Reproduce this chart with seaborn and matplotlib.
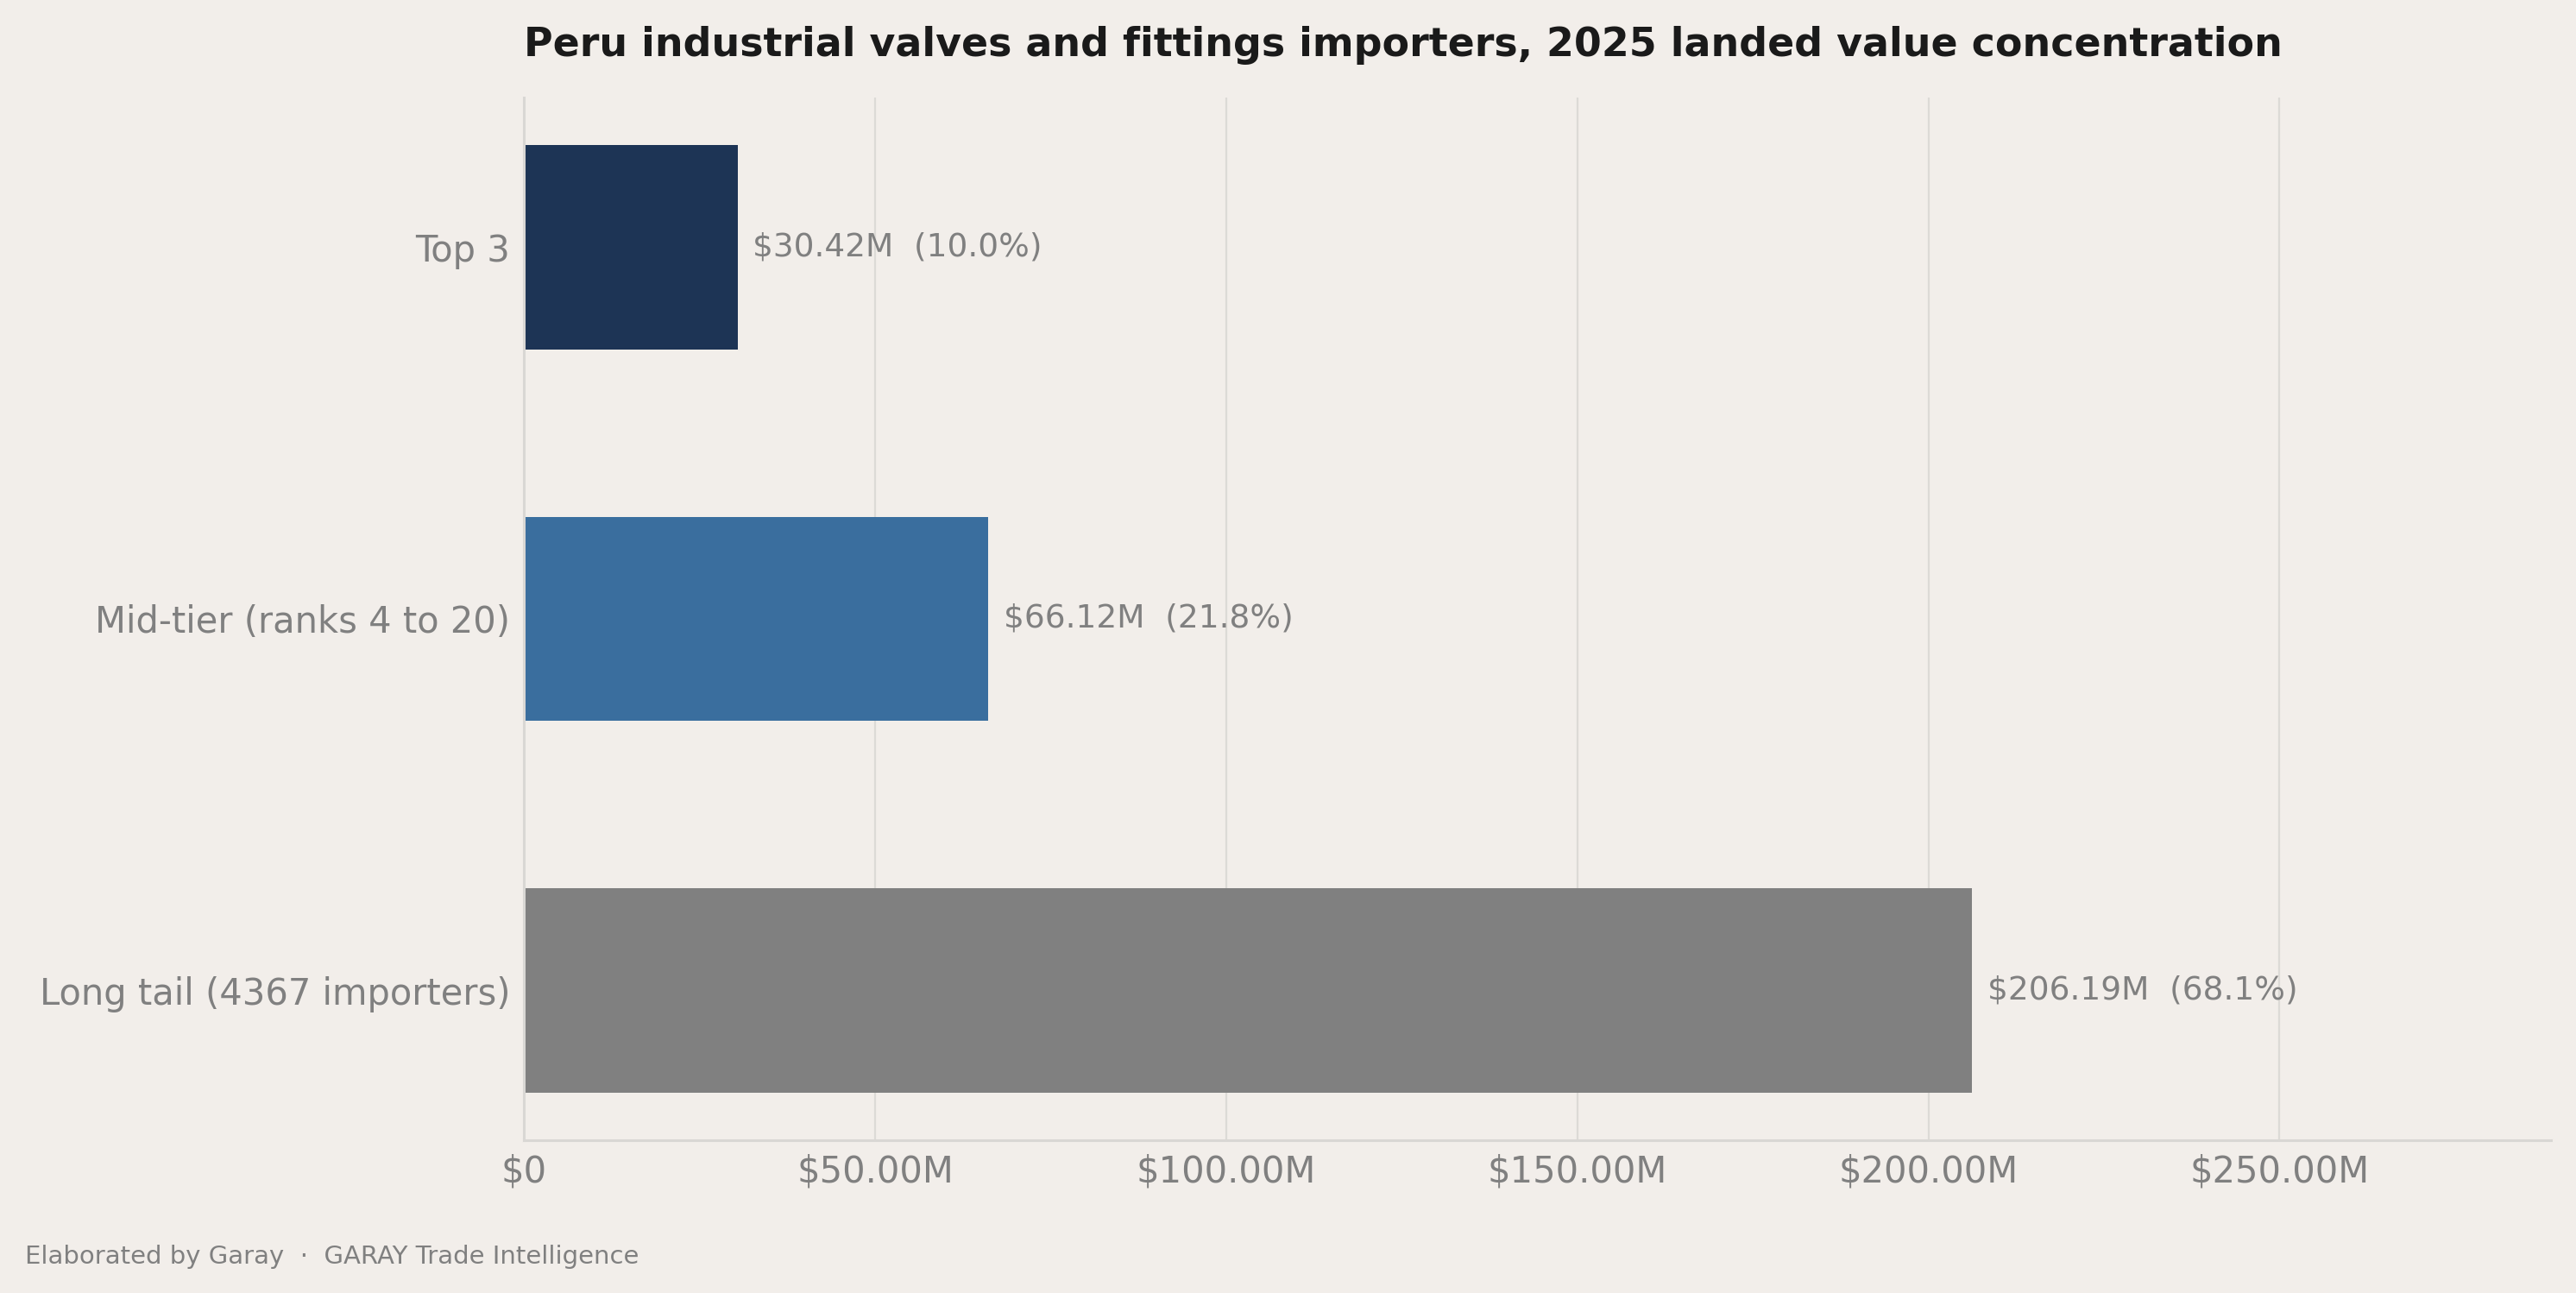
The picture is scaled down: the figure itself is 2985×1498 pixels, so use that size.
import matplotlib
matplotlib.use("Agg")
import matplotlib.pyplot as plt
import seaborn as sns
import pandas as pd
from matplotlib.ticker import FuncFormatter

# data
segments = ["Top 3", "Mid-tier (ranks 4 to 20)", "Long tail (4367 importers)"]
values_musd = [30.42, 66.12, 206.19]
shares_pct = [10.0, 21.8, 68.1]
bar_colors = ["#1d3455", "#3a6e9e", "#808080"]

BG = "#f2eeea"
GREY_TEXT = "#808080"
SPINE = "#d9d7d4"

df = pd.DataFrame({"Segment": segments, "Value": [v * 1e6 for v in values_musd]})

sns.set_theme(style="whitegrid")
plt.rcParams["font.family"] = ["DejaVu Sans"]

fig = plt.figure(figsize=(2985 / 200, 1498 / 200), dpi=200, facecolor=BG)
ax = fig.add_axes([0.2034, 0.1182, 0.9903 - 0.2034, 0.9246 - 0.1182])
ax.set_facecolor(BG)

sns.barplot(data=df, y="Segment", x="Value", hue="Segment", palette=bar_colors,
            orient="h", width=0.55, legend=False, saturation=1, linewidth=0, ax=ax)

for patch, v, s in zip(ax.patches, values_musd, shares_pct):
    y = patch.get_y() + patch.get_height() / 2
    ax.annotate(f"${v:.2f}M  ({s:.1f}%)", xy=(patch.get_width(), y),
                xytext=(6.4, 0), textcoords="offset points",
                va="center", ha="left", fontsize=13.5, color=GREY_TEXT)

ax.set_xlim(0, max(values_musd) * 1e6 * 1.4)
ax.set_ylim(len(segments) - 1 + 0.4025, -0.4025)
ax.xaxis.set_major_formatter(FuncFormatter(lambda x, _: "$0" if x == 0 else f"${x / 1e6:.2f}M"))

ax.grid(axis="x", color="#dcdad6", linewidth=0.8)
ax.grid(axis="y", visible=False)
ax.set_axisbelow(True)
for side in ["top", "right"]:
    ax.spines[side].set_visible(False)
for side in ["left", "bottom"]:
    ax.spines[side].set_color(SPINE)
    ax.spines[side].set_linewidth(1.1)

ax.tick_params(axis="y", length=0, pad=5.8, labelsize=15, labelcolor=GREY_TEXT)
ax.tick_params(axis="x", length=0, pad=5.5, labelsize=15, labelcolor=GREY_TEXT)
ax.set_xlabel("")
ax.set_ylabel("")

fig.text(0.2034, 0.9566, "Peru industrial valves and fittings importers, 2025 landed value concentration",
         ha="left", va="baseline", fontsize=16.5, fontweight="bold", color="#1a1a1a")
fig.text(0.0097, 0.023, "Elaborated by Garay  \u00b7  GARAY Trade Intelligence",
         ha="left", va="baseline", fontsize=10.5, color=GREY_TEXT)

fig.savefig("out.png", dpi=200, facecolor=BG)
plt.close(fig)
